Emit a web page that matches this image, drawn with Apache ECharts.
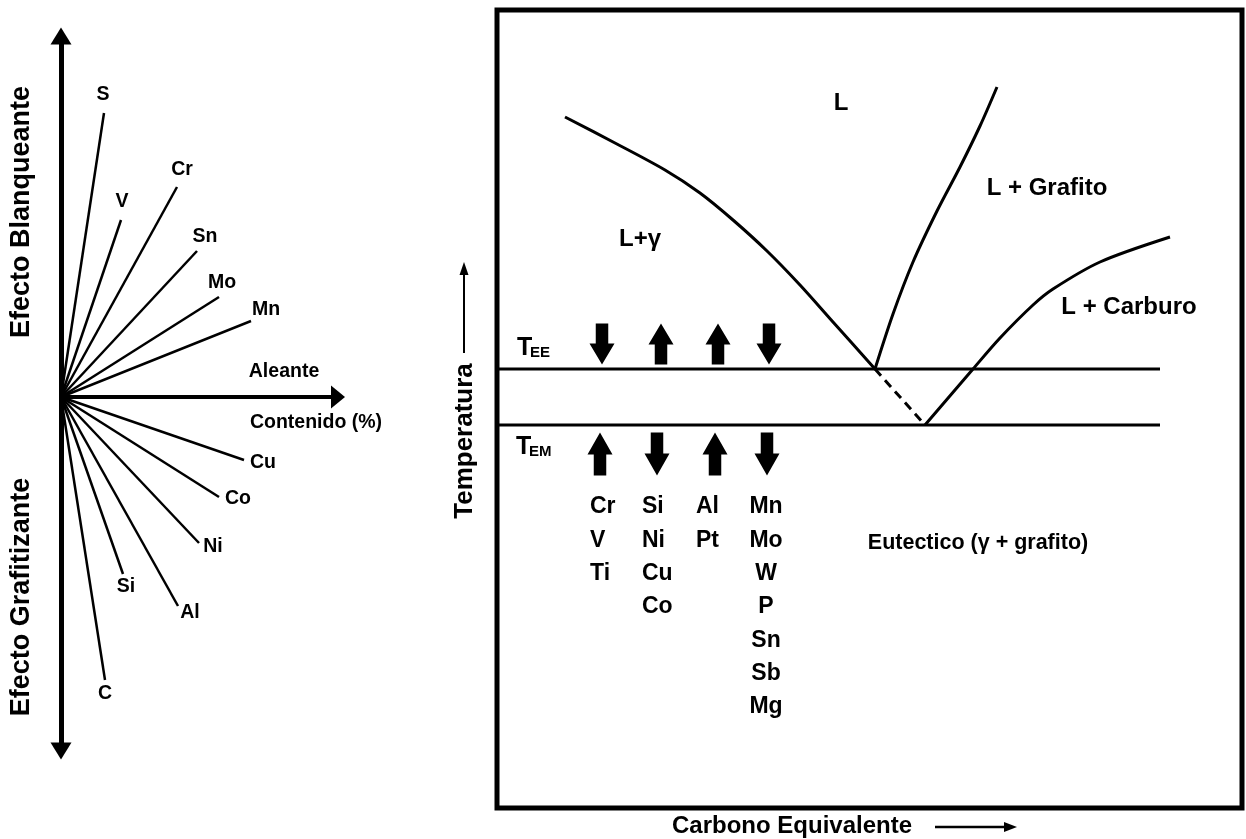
<!DOCTYPE html>
<html><head><meta charset="utf-8">
<script src="https://cdn.jsdelivr.net/npm/echarts@6/dist/echarts.min.js"></script>
<style>html,body{margin:0;padding:0;background:#fff}#c{width:1246px;height:839px}</style>
</head><body><div id="c"></div>
<script>
// ================= DATA =================
// Left diagram: effect of each alloying element (positive = whitening, negative = graphitizing)
const alloyElements = ['S','V','Cr','Sn','Mo','Mn','Cu','Co','Ni','Si','Al','C'];
const alloyContent  = [43, 60, 116, 136, 158, 190, 183, 158, 138, 62, 117, 44];
const alloyEffect   = [284, 177, 210, 146, 100, 76, -63, -100, -146, -177, -209, -283];

// Right diagram: phase-diagram lines (carbon equivalent, temperature; arbitrary units)
const liqAusteniteCE = [68, 118, 168, 203, 236, 270, 303, 336, 378];
const liqAusteniteT  = [691, 665, 638, 615, 588, 557, 523, 486, 439];
const liqGraphiteCE  = [378, 396, 416, 440, 463, 483, 500];
const liqGraphiteT   = [439, 494, 546, 597, 641, 682, 721];
const liqCarbideCE   = [428, 476, 503, 536, 556, 603, 673];
const liqCarbideT    = [383, 439, 470, 503, 519, 546, 571];
const metastableExtCE = [378, 428];
const metastableExtT  = [439, 383];
const eutecticLineCE  = [0, 663];
const tempEE = 439;   // stable eutectic temperature
const tempEM = 383;   // metastable eutectic temperature

// Element groups and their effect on TEE / TEM (+1 raises, -1 lowers)
const groupElements = [['Cr','V','Ti'], ['Si','Ni','Cu','Co'], ['Al','Pt'], ['Mn','Mo','W','P','Sn','Sb','Mg']];
const effectOnTEE = [-1, 1, 1, -1];
const effectOnTEM = [1, -1, 1, -1];

// ================= LAYOUT / STYLE =================
const FF = '"Liberation Sans", Arial, Helvetica, sans-serif';
const font = s => `bold ${s}px ${FF}`;
const lbl = s => ({color:'#000', opacity:1, fontSize:s, fontWeight:'bold', fontFamily:FF});
const rayLabelOffset = {S:[-1,-18], V:[1,-18], Cr:[5,-17], Sn:[8,-14], Mo:[3,-14], Mn:[15,-11],
  Cu:[19,3], Co:[19,2], Ni:[14,4], Si:[3,13], Al:[12,7], C:[0,14]};
const arrowXTEE = [105, 164, 221, 272], arrowYTEE = 464;
const arrowXTEM = [103, 160, 218, 270], arrowYTEM = 354;
const groupLabelX = [93, 145, 199, 269];
const groupLabelAlign = ['left','left','left','center'];
const groupRowTop = 301, groupRowStep = 33.3;
const UP = 'path://M12,0 L24,21 L18,21 L18,41 L6,41 L6,21 L0,21 Z';
const DOWN = 'path://M6,0 L18,0 L18,20 L24,20 L12,41 L0,20 L6,20 Z';

const pairs = (xs, ys) => xs.map((x, i) => [x, ys[i]]);
const hidden = {axisLine:{show:false}, axisTick:{show:false}, axisLabel:{show:false}, splitLine:{show:false}};
const invisible = {color:'rgba(0,0,0,0)', opacity:1};

const series = [];
// rays
series.push({
  type:'lines', coordinateSystem:'cartesian2d', xAxisIndex:0, yAxisIndex:0, silent:true,
  lineStyle:{color:'#000', width:2.5, opacity:1},
  data: alloyElements.map((e, i) => ({coords:[[0, 0], [alloyContent[i], alloyEffect[i]]]}))
});
// ray labels
series.push({
  type:'scatter', xAxisIndex:0, yAxisIndex:0, symbolSize:1, itemStyle:invisible, silent:true,
  data: alloyElements.map((e, i) => ({value:[alloyContent[i], alloyEffect[i]], name:e,
    label:Object.assign({show:true, position:'inside', offset:rayLabelOffset[e], formatter:e}, lbl(19.5))}))
});
// phase lines
const lineBase = {type:'line', xAxisIndex:1, yAxisIndex:1, showSymbol:false, symbol:'none', silent:true, z:3};
series.push(Object.assign({}, lineBase, {data:pairs(liqAusteniteCE, liqAusteniteT), smooth:0.3, lineStyle:{color:'#000', width:3}}));
series.push(Object.assign({}, lineBase, {data:pairs(liqGraphiteCE, liqGraphiteT), smooth:0.3, lineStyle:{color:'#000', width:3}}));
series.push(Object.assign({}, lineBase, {data:pairs(liqCarbideCE, liqCarbideT), smooth:0.3, lineStyle:{color:'#000', width:3}}));
series.push(Object.assign({}, lineBase, {data:pairs(eutecticLineCE, [tempEE, tempEE]), lineStyle:{color:'#000', width:3}}));
series.push(Object.assign({}, lineBase, {data:pairs(eutecticLineCE, [tempEM, tempEM]), lineStyle:{color:'#000', width:3}}));
series.push(Object.assign({}, lineBase, {data:pairs(metastableExtCE, metastableExtT), lineStyle:{color:'#000', width:3, type:[9,6]}}));
// block arrows
series.push({
  type:'scatter', xAxisIndex:1, yAxisIndex:1, silent:true, itemStyle:{color:'#000', opacity:1},
  data: effectOnTEE.map((v, i) => ({value:[arrowXTEE[i], arrowYTEE], symbol: v > 0 ? UP : DOWN, symbolSize:[25, 41]}))
    .concat(effectOnTEM.map((v, i) => ({value:[arrowXTEM[i], arrowYTEM], symbol: v > 0 ? UP : DOWN, symbolSize:[25, 43]})))
});
// element group labels
const groupData = [];
groupElements.forEach((g, c) => g.forEach((el, r) => groupData.push({
  value:[groupLabelX[c], groupRowTop - r * groupRowStep], name:el,
  label:Object.assign({show:true, position:'inside', align:groupLabelAlign[c], formatter:el}, lbl(23))
})));
series.push({type:'scatter', xAxisIndex:1, yAxisIndex:1, symbolSize:1, itemStyle:invisible, silent:true, data:groupData});

const txt = (x, y, text, size, extra) => Object.assign({type:'text', x, y,
  style:{text, font:font(size), fill:'#000', align:'center', verticalAlign:'middle'}}, extra || {});

const option = {
  animation:false,
  backgroundColor:'#fff',
  grid:[
    {left:61, top:36, width:277, height:715, show:false},
    {left:497, top:10, width:745, height:798, show:true, borderColor:'#000', borderWidth:5, backgroundColor:'transparent'}
  ],
  xAxis:[
    {type:'value', gridIndex:0, min:0, max:277, axisLine:{show:true, onZero:true, symbol:['none','triangle'], symbolSize:[23,14], lineStyle:{color:'#000', width:4}},
      axisTick:{show:false}, axisLabel:{show:false}, splitLine:{show:false}},
    Object.assign({type:'value', gridIndex:1, min:0, max:745}, hidden)
  ],
  yAxis:[
    {type:'value', gridIndex:0, min:-354, max:361, axisLine:{show:true, onZero:true, symbol:['triangle','triangle'], symbolSize:[21,17], lineStyle:{color:'#000', width:5}},
      axisTick:{show:false}, axisLabel:{show:false}, splitLine:{show:false}},
    Object.assign({type:'value', gridIndex:1, min:0, max:798}, hidden)
  ],
  series,
  graphic:[
    txt(22, 212, 'Efecto Blanqueante', 27, {rotation:Math.PI/2}),
    txt(22, 597, 'Efecto Grafitizante', 27, {rotation:Math.PI/2}),
    txt(284, 372, 'Aleante', 19.5),
    txt(316, 423, 'Contenido (%)', 19.5),
    txt(841, 103, 'L', 24),
    txt(1047, 188, 'L + Grafito', 24),
    txt(640, 239, 'L+γ', 24),
    txt(1129, 307, 'L + Carburo', 24),
    txt(978, 543, 'Eutectico (γ + grafito)', 21.5),
    {type:'text', x:517, y:361, style:{text:'T', font:font(25), fill:'#000', align:'left', verticalAlign:'bottom'}},
    {type:'text', x:530, y:360, style:{text:'EE', font:font(15), fill:'#000', align:'left', verticalAlign:'bottom'}},
    {type:'text', x:516, y:460, style:{text:'T', font:font(25), fill:'#000', align:'left', verticalAlign:'bottom'}},
    {type:'text', x:529, y:459, style:{text:'EM', font:font(15), fill:'#000', align:'left', verticalAlign:'bottom'}},
    txt(465, 441, 'Temperatura', 26, {rotation:Math.PI/2}),
    {type:'line', shape:{x1:464, y1:353, x2:464, y2:272}, style:{stroke:'#000', lineWidth:2}},
    {type:'polygon', shape:{points:[[464,262],[459.5,275],[468.5,275]]}, style:{fill:'#000'}},
    txt(792, 826, 'Carbono Equivalente', 24),
    {type:'line', shape:{x1:935, y1:827, x2:1006, y2:827}, style:{stroke:'#000', lineWidth:2.5}},
    {type:'polygon', shape:{points:[[1017,827],[1004,822],[1004,832]]}, style:{fill:'#000'}}
  ]
};
const chart = echarts.init(document.getElementById('c'), null, {renderer:'canvas'});
chart.setOption(option);
</script></body></html>
